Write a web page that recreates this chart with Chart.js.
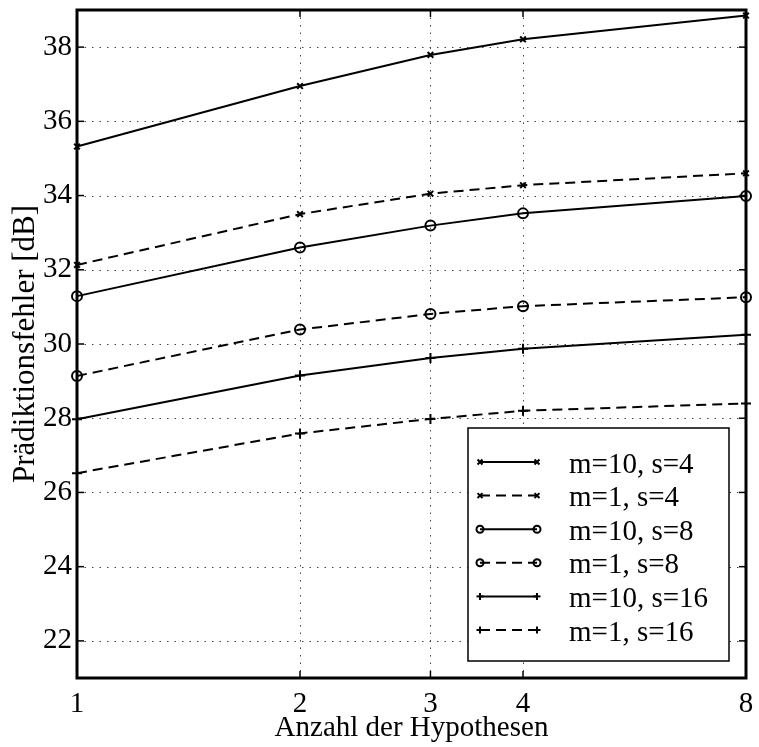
<!DOCTYPE html>
<html lang="de">
<head>
<meta charset="utf-8" />
<title>Prädiktionsfehler</title>
<style>
  * { margin: 0; padding: 0; }
  body { background: white; }
  .chartBox { width: 759px; height: 747px; }
</style>
</head>
<body>
<div class="chartBox"><canvas id="myChart" width="759" height="747"></canvas></div>

<script src="https://cdn.jsdelivr.net/npm/chart.js"></script>
<script>
// x positions (log axis) and tick values
const hypotheses = [1, 2, 3, 4, 8];
const yTicks = [22, 24, 26, 28, 30, 32, 34, 36, 38];

const seriesLabels = ["m=10, s=4", "m=1, s=4", "m=10, s=8", "m=1, s=8", "m=10, s=16", "m=1, s=16"];

// Prädiktionsfehler [dB]
const m10s4 = [35.32, 36.95, 37.79, 38.21, 38.85];
const m1s4 = [32.13, 33.50, 34.05, 34.28, 34.60];
const m10s8 = [31.29, 32.60, 33.19, 33.52, 33.99];
const m1s8 = [29.14, 30.39, 30.81, 31.02, 31.26];
const m10s16 = [27.97, 29.15, 29.62, 29.87, 30.25];
const m1s16 = [26.52, 27.59, 27.98, 28.20, 28.40];

const FONT = "'Liberation Serif', 'Times New Roman', serif";
const DASH = [10, 6];

function makeSet(label, values, dashed, marker, radius) {
  return {
    label: label,
    data: values.map((v, i) => ({ x: hypotheses[i], y: v })),
    borderColor: "#000",
    backgroundColor: "transparent",
    borderWidth: 2,
    borderDash: dashed ? DASH : [],
    pointStyle: marker,
    pointRadius: radius,
    pointBorderWidth: 2,
    pointBorderColor: "#000",
    pointBackgroundColor: "transparent",
    tension: 0,
    clip: false,
  };
}

const datasets = [
  makeSet(seriesLabels[0], m10s4, false, "crossRot", 4),
  makeSet(seriesLabels[1], m1s4, true, "crossRot", 4),
  makeSet(seriesLabels[2], m10s8, false, "circle", 5),
  makeSet(seriesLabels[3], m1s8, true, "circle", 5),
  makeSet(seriesLabels[4], m10s16, false, "cross", 5),
  makeSet(seriesLabels[5], m1s16, true, "cross", 5),
];

function seg(ctx, x1, y1, x2, y2) {
  ctx.beginPath();
  ctx.moveTo(x1, y1);
  ctx.lineTo(x2, y2);
  ctx.stroke();
}

function marker(ctx, style, cx, cy, r) {
  ctx.setLineDash([]);
  if (style === "circle") {
    ctx.beginPath();
    ctx.arc(cx, cy, r, 0, Math.PI * 2);
    ctx.stroke();
  } else if (style === "cross") {
    seg(ctx, cx - r, cy, cx + r, cy);
    seg(ctx, cx, cy - r, cx, cy + r);
  } else {
    const d = r * Math.SQRT1_2;
    seg(ctx, cx - d, cy - d, cx + d, cy + d);
    seg(ctx, cx - d, cy + d, cx + d, cy - d);
  }
}

// dotted grid, boxed frame with inward ticks (MATLAB look), legend inside the plot
const matlabLook = {
  id: "matlabLook",
  beforeDatasetsDraw(chart) {
    const { ctx, chartArea: a, scales } = chart;
    ctx.save();
    ctx.strokeStyle = "#444";
    ctx.lineWidth = 1;
    ctx.setLineDash([1.5, 6]);
    hypotheses.slice(1, -1).forEach((v) => {
      const px = Math.round(scales.x.getPixelForValue(v)) + 0.5;
      seg(ctx, px, a.top, px, a.bottom);
    });
    yTicks.forEach((v) => {
      const py = Math.round(scales.y.getPixelForValue(v)) + 0.5;
      seg(ctx, a.left, py, a.right, py);
    });
    ctx.restore();
  },
  afterDatasetsDraw(chart) {
    const { ctx, chartArea: a, scales } = chart;
    ctx.save();
    ctx.strokeStyle = "#000";
    ctx.setLineDash([]);
    // inward ticks
    ctx.lineWidth = 1.5;
    const t = 7;
    hypotheses.forEach((v) => {
      const px = scales.x.getPixelForValue(v);
      seg(ctx, px, a.bottom, px, a.bottom - t);
      seg(ctx, px, a.top, px, a.top + t);
    });
    yTicks.forEach((v) => {
      const py = scales.y.getPixelForValue(v);
      seg(ctx, a.left, py, a.left + t, py);
      seg(ctx, a.right, py, a.right - t, py);
    });
    // frame
    ctx.lineWidth = 3;
    ctx.strokeRect(a.left, a.top, a.right - a.left, a.bottom - a.top);

    // legend
    const bx = 468, by = 428, bw = 261, bh = 233;
    ctx.fillStyle = "#fff";
    ctx.fillRect(bx, by, bw, bh);
    ctx.lineWidth = 1.5;
    ctx.strokeRect(bx, by, bw, bh);
    ctx.font = "29px " + FONT;
    ctx.textBaseline = "middle";
    ctx.textAlign = "left";
    chart.data.datasets.forEach((ds, i) => {
      const ly = 462 + i * 33.6;
      ctx.strokeStyle = "#000";
      ctx.lineWidth = 2;
      ctx.setLineDash(ds.borderDash);
      seg(ctx, 480, ly, 537, ly);
      marker(ctx, ds.pointStyle, 480, ly, 3.5);
      marker(ctx, ds.pointStyle, 537, ly, 3.5);
      ctx.fillStyle = "#000";
      ctx.fillText(ds.label, 569, ly + 3);
    });
    ctx.restore();
  },
};

const config = {
  type: "line",
  data: { datasets: datasets },
  options: {
    responsive: false,
    animation: false,
    layout: { padding: { top: 10, right: 13, left: 0, bottom: 0 } },
    plugins: {
      legend: { display: false },
      tooltip: { enabled: false },
    },
    scales: {
      x: {
        type: "logarithmic",
        min: 1,
        max: 8,
        afterBuildTicks: (scale) => {
          scale.ticks = hypotheses.map((v) => ({ value: v }));
        },
        afterFit: (scale) => {
          scale.height = 69;
          scale.paddingLeft = 0;
          scale.paddingRight = 0;
        },
        grid: { display: false, drawTicks: false },
        border: { display: false },
        ticks: {
          callback: (v) => String(v),
          color: "#000",
          font: { family: FONT, size: 29 },
          padding: 9,
          maxRotation: 0,
          autoSkip: false,
        },
        title: {
          display: true,
          text: "Anzahl der Hypothesen",
          color: "#000",
          font: { family: FONT, size: 29 },
          padding: { top: 0, bottom: 1 },
        },
      },
      y: {
        type: "linear",
        min: 21,
        max: 39,
        afterBuildTicks: (scale) => {
          scale.ticks = yTicks.map((v) => ({ value: v }));
        },
        afterFit: (scale) => {
          scale.width = 77;
          scale.paddingTop = 0;
          scale.paddingBottom = 0;
        },
        grid: { display: false, drawTicks: false },
        border: { display: false },
        ticks: {
          color: "#000",
          font: { family: FONT, size: 29 },
          padding: 5,
        },
        title: {
          display: true,
          text: "Prädiktionsfehler [dB]",
          color: "#000",
          font: { family: FONT, size: 31 },
          padding: { top: 7, bottom: 0 },
        },
      },
    },
  },
  plugins: [matlabLook],
};

const myChart = new Chart(document.getElementById("myChart"), config);
</script>
</body>
</html>
